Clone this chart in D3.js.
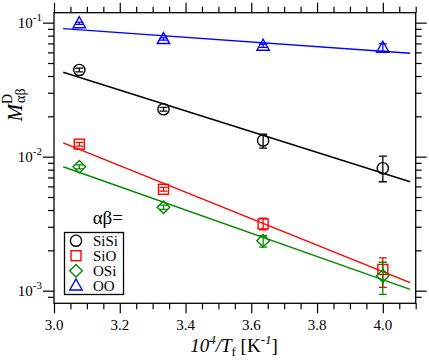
<!DOCTYPE html>
<html>
<head>
<meta charset="utf-8">
<script src="https://cdn.jsdelivr.net/npm/d3@7"></script>
<style>
  body { margin: 0; background: #fff; }
  text { font-family: "Liberation Serif", "Times New Roman", serif; }
</style>
</head>
<body>
<script>
// data (x = 10^4/Tf)
var xT = [3.077, 3.333, 3.636, 4.0]
var names = ["SiSi", "SiO", "OSi", "OO"]
var colors = ["#000000", "#ff0000", "#008b00", "#0000ff"]
var shapes = ["circle", "square", "diamond", "triangle"]

var mSiSi = [0.0444, 0.0226, 0.0132, 0.0082]
var loSiSi = [0.0430, 0.0219, 0.0116, 0.0065]
var hiSiSi = [0.0458, 0.0233, 0.0147, 0.0101]

var mSiO = [0.0124, 0.00571, 0.00315, 0.00144]
var loSiO = [0.0120, 0.00553, 0.00285, 0.00106]
var hiSiO = [0.0128, 0.00590, 0.00347, 0.00176]

var mOSi = [0.0084, 0.00419, 0.00236, 0.00129]
var loOSi = [0.0081, 0.00404, 0.00211, 0.00094]
var hiOSi = [0.0087, 0.00435, 0.00257, 0.00163]

var mOO = [0.099, 0.0755, 0.0673, 0.065]
var loOO = [0.097, 0.0740, 0.0655, 0.0610]
var hiOO = [0.101, 0.0770, 0.0690, 0.0695]

// fitted lines: log10(M) = a + b * x
var fitA = [0.9749, 1.094, 0.5503, -0.5188]
var fitB = [-0.7744, -0.988, -0.867, -0.1737]
var fitRange = [3.028, 4.083]

var xMajor = [3.0, 3.2, 3.4, 3.6, 3.8, 4.0]
var yMajorExp = [-1, -2, -3]

var series = [
  {m: mSiSi, lo: loSiSi, hi: hiSiSi},
  {m: mSiO, lo: loSiO, hi: hiSiO},
  {m: mOSi, lo: loOSi, hi: hiOSi},
  {m: mOO, lo: loOO, hi: hiOO}
]

var w = 429, h = 363
var pLeft = 54, pRight = 415.7, pTop = 12.7, pBottom = 303.3

var svg = d3.select("body").append("svg")
  .attr("width", w)
  .attr("height", h)

var xScale = d3.scaleLinear().domain([3.0, 4.1]).range([pLeft, pRight])
var yScale = d3.scaleLog().domain([8.05e-4, 0.1187]).range([pBottom, pTop])

// tick values
var xMinor = d3.range(3.0, 4.1001, 0.05).filter(function(v) {
  return Math.abs(v * 5 - Math.round(v * 5)) > 1e-6
})
var yMinor = []
;[-4, -3, -2, -1].forEach(function(e) {
  for (var k = 2; k <= 9; k++) {
    var v = k * Math.pow(10, e)
    if (v >= 8.05e-4 && v <= 0.1187) yMinor.push(v)
  }
})
var yMajor = yMajorExp.map(function(e) { return Math.pow(10, e) })

function drawAxis(axisFn, scale, vals, size, transform) {
  var g = svg.append("g")
    .attr("transform", transform)
    .call(axisFn(scale).tickValues(vals).tickSize(size).tickSizeOuter(0).tickFormat(""))
  g.select(".domain").remove()
  g.selectAll("line").attr("stroke", "#000").attr("stroke-width", 1.2)
}

// outward ticks on all four sides
drawAxis(d3.axisBottom, xScale, xMajor, 10, "translate(0," + pBottom + ")")
drawAxis(d3.axisBottom, xScale, xMinor, 6, "translate(0," + pBottom + ")")
drawAxis(d3.axisTop, xScale, xMajor, 10, "translate(0," + pTop + ")")
drawAxis(d3.axisTop, xScale, xMinor, 6, "translate(0," + pTop + ")")
drawAxis(d3.axisLeft, yScale, yMajor, 11, "translate(" + pLeft + ",0)")
drawAxis(d3.axisLeft, yScale, yMinor, 6, "translate(" + pLeft + ",0)")
drawAxis(d3.axisRight, yScale, yMajor, 11, "translate(" + pRight + ",0)")
drawAxis(d3.axisRight, yScale, yMinor, 6, "translate(" + pRight + ",0)")

// frame
svg.append("rect")
  .attr("x", pLeft).attr("y", pTop)
  .attr("width", pRight - pLeft).attr("height", pBottom - pTop)
  .attr("fill", "none").attr("stroke", "#000").attr("stroke-width", 1.3)

// x tick labels
svg.selectAll(".xlab").data(xMajor).enter().append("text")
  .attr("x", function(d) { return xScale(d) })
  .attr("y", 330)
  .attr("text-anchor", "middle")
  .style("font-size", "15px")
  .text(function(d) { return d.toFixed(1) })

// y tick labels 10^n
yMajorExp.forEach(function(e) {
  var t = svg.append("text")
    .attr("x", 42)
    .attr("y", yScale(Math.pow(10, e)) + 5.5)
    .attr("text-anchor", "end")
    .style("font-size", "15px")
  t.append("tspan").text("10")
  t.append("tspan").attr("dy", -7).style("font-size", "11px").text(String(e))
})

// clip region for lines
svg.append("clipPath").attr("id", "clip")
  .append("rect").attr("x", pLeft).attr("y", pTop)
  .attr("width", pRight - pLeft).attr("height", pBottom - pTop)

var plot = svg.append("g").attr("clip-path", "url(#clip)")

// fitted lines
var line = d3.line()
  .x(function(d) { return xScale(d[0]) })
  .y(function(d) { return yScale(d[1]) })

fitA.forEach(function(a, i) {
  var pts = fitRange.map(function(x) { return [x, Math.pow(10, a + fitB[i] * x)] })
  plot.append("path")
    .attr("d", line(pts))
    .attr("fill", "none")
    .attr("stroke", colors[i])
    .attr("stroke-width", 1.4)
})

// marker shapes
function marker(g, shape, color) {
  var s
  if (shape == "circle") {
    s = g.append("circle").attr("r", 5.6)
  } else if (shape == "square") {
    s = g.append("rect").attr("x", -5).attr("y", -5).attr("width", 10).attr("height", 10)
  } else if (shape == "diamond") {
    s = g.append("path").attr("d", "M0,-6.3L6.3,0L0,6.3L-6.3,0Z")
  } else {
    s = g.append("path").attr("d", "M0,-6.5L6.2,4.5L-6.2,4.5Z")
  }
  s.attr("fill", "none").attr("stroke", color).attr("stroke-width", 1.4)
}

// points with error bars
series.forEach(function(s, i) {
  var c = colors[i]
  xT.forEach(function(x, j) {
    var px = xScale(x)
    var yl = yScale(s.lo[j]), yh = yScale(s.hi[j])
    var g = plot.append("g")
    g.append("line").attr("x1", px).attr("x2", px).attr("y1", yl).attr("y2", yh)
      .attr("stroke", c).attr("stroke-width", 1.3)
    ;[yl, yh].forEach(function(yy) {
      g.append("line").attr("x1", px - 4).attr("x2", px + 4).attr("y1", yy).attr("y2", yy)
        .attr("stroke", c).attr("stroke-width", 1.3)
    })
    var mg = g.append("g").attr("transform", "translate(" + px + "," + yScale(s.m[j]) + ")")
    marker(mg, shapes[i], c)
  })
})

// legend
svg.append("text")
  .attr("x", 123).attr("y", 224)
  .attr("text-anchor", "end")
  .style("font-size", "19px")
  .text("αβ=")

svg.append("rect")
  .attr("x", 64.5).attr("y", 232.5)
  .attr("width", 59).attr("height", 62)
  .attr("fill", "#fff").attr("stroke", "#000").attr("stroke-width", 1.3)

var rowY = [240.7, 255.7, 270.7, 285.5]
names.forEach(function(n, i) {
  var mg = svg.append("g").attr("transform", "translate(76," + rowY[i] + ")")
  marker(mg, shapes[i], colors[i])
  svg.append("text")
    .attr("x", 93).attr("y", rowY[i] + 5)
    .style("font-size", "15px")
    .text(n)
})

// x axis title
var xt = svg.append("text")
  .attr("x", 234).attr("y", 352)
  .attr("text-anchor", "middle")
  .style("font-size", "19px")
xt.append("tspan").style("font-style", "italic").text("10")
xt.append("tspan").attr("dy", -8).style("font-size", "13px").style("font-style", "italic").text("4")
xt.append("tspan").attr("dy", 8).style("font-style", "italic").text("/T")
xt.append("tspan").attr("dy", 4).style("font-size", "13px").text("f")
xt.append("tspan").attr("dy", -4).text(" [K")
xt.append("tspan").attr("dy", -8).style("font-size", "13px").text("-")
xt.append("tspan").style("font-size", "13px").style("font-style", "italic").text("1")
xt.append("tspan").attr("dy", 8).text("]")

// y axis title
var yt = svg.append("text")
  .attr("transform", "translate(21.5,105) rotate(-90)")
  .attr("text-anchor", "middle")
  .style("font-size", "21px")
yt.append("tspan").style("font-style", "italic").text("M")
yt.append("tspan").attr("dy", -10).style("font-size", "14px").text("D")
yt.append("tspan").attr("dx", -9).attr("dy", 13).style("font-size", "14px").text("αβ")
</script>
</body>
</html>
